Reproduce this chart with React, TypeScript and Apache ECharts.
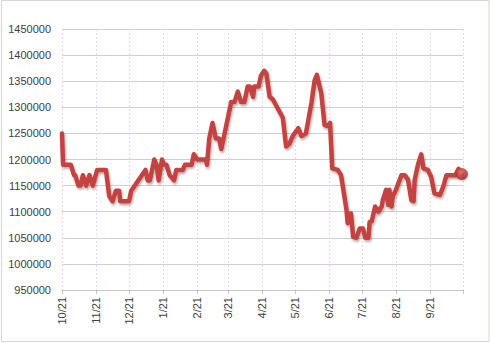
import React, { useEffect, useRef } from "react";
import * as echarts from "echarts";

const dates: string[] = [
  "2020-10-21","2020-10-22","2020-10-29","2020-11-01","2020-11-02","2020-11-05","2020-11-07","2020-11-09","2020-11-12","2020-11-15",
  "2020-11-18","2020-11-22","2020-11-30","2020-12-03","2020-12-06","2020-12-09","2020-12-12","2020-12-13","2020-12-21","2020-12-23",
  "2021-01-05","2021-01-07","2021-01-09","2021-01-13","2021-01-15","2021-01-17","2021-01-20","2021-01-22","2021-01-24","2021-01-27",
  "2021-01-31","2021-02-02","2021-02-08","2021-02-10","2021-02-16","2021-02-18","2021-02-21","2021-03-01","2021-03-02","2021-03-04",
  "2021-03-07","2021-03-10","2021-03-13","2021-03-15","2021-03-18","2021-03-21","2021-03-24","2021-03-27","2021-03-30","2021-04-02",
  "2021-04-05","2021-04-08","2021-04-10","2021-04-13","2021-04-14","2021-04-18","2021-04-20","2021-04-23","2021-04-25","2021-04-28",
  "2021-05-01","2021-05-10","2021-05-13","2021-05-16","2021-05-19","2021-05-24","2021-05-27","2021-05-31","2021-06-02","2021-06-05",
  "2021-06-08","2021-06-10","2021-06-14","2021-06-17","2021-06-20","2021-06-22","2021-06-24","2021-06-29","2021-07-02","2021-07-07",
  "2021-07-08","2021-07-11","2021-07-13","2021-07-16","2021-07-19","2021-07-22","2021-07-24","2021-07-27","2021-07-28","2021-07-30",
  "2021-08-02","2021-08-05","2021-08-08","2021-08-09","2021-08-12","2021-08-14","2021-08-15","2021-08-17","2021-08-18","2021-08-21",
  "2021-08-26","2021-08-29","2021-09-01","2021-09-04","2021-09-06","2021-09-07","2021-09-10","2021-09-13","2021-09-15","2021-09-19",
  "2021-09-22","2021-09-25","2021-09-30","2021-10-03","2021-10-06","2021-10-14","2021-10-17","2021-10-20",
];

const values: number[] = [
  1250000,1190000,1190000,1170000,1170000,1150000,1150000,1170000,1150000,1170000,
  1150000,1180000,1180000,1130000,1120000,1140000,1140000,1120000,1120000,1140000,
  1180000,1160000,1160000,1200000,1190000,1160000,1200000,1190000,1190000,1170000,
  1160000,1180000,1180000,1190000,1190000,1210000,1200000,1200000,1190000,1240000,
  1270000,1240000,1240000,1220000,1250000,1280000,1310000,1310000,1330000,1310000,
  1310000,1340000,1340000,1320000,1340000,1340000,1360000,1370000,1365000,1320000,
  1315000,1280000,1225000,1230000,1245000,1260000,1245000,1250000,1273000,1308000,
  1352000,1362000,1327000,1266000,1264000,1270000,1183000,1180000,1170000,1103000,
  1078000,1097000,1052000,1050000,1068000,1068000,1050000,1050000,1080000,1082000,
  1110000,1100000,1110000,1122000,1142000,1113000,1142000,1110000,1129000,1142000,
  1170000,1170000,1161000,1122000,1120000,1161000,1190000,1210000,1183000,1180000,
  1167000,1135000,1132000,1148000,1170000,1170000,1182000,1172000,
];

const tickDates: string[] = [
  "2020-10-21","2020-11-21","2020-12-21","2021-01-21","2021-02-21","2021-03-21",
  "2021-04-21","2021-05-21","2021-06-21","2021-07-21","2021-08-21","2021-09-21","2021-10-21",
];
const labelDates: string[] = tickDates.slice(0, 12);

const yMin = 950000;
const yMax = 1450000;
const yStep = 50000;

function toTs(s: string): number {
  const [y, m, d] = s.split("-").map(Number);
  return new Date(y, m - 1, d).getTime();
}

export default function App() {
  const ref = useRef<HTMLDivElement>(null);
  useEffect(() => {
    document.body.style.margin = "0";
    if (!ref.current) return;
    const chart = echarts.init(ref.current, null, { renderer: "svg" });
    const lineData = dates.map((d, i) => [toTs(d), values[i]]);
    const last = lineData[lineData.length - 1];
    chart.setOption({
      animation: false,
      backgroundColor: "#ffffff",
      grid: { left: 62, right: 27, top: 29, bottom: 53, containLabel: false },
      graphic: [
        {
          type: "rect",
          shape: { x: 1.5, y: 0.5, width: 487.5, height: 341 },
          style: { fill: "none", stroke: "#d4d8d4", lineWidth: 1 },
          silent: true,
        },
      ],
      xAxis: {
        type: "value",
        min: toTs(tickDates[0]),
        max: toTs(tickDates[tickDates.length - 1]),
        axisLine: { show: true, lineStyle: { color: "#c4c4c4", width: 1 } },
        axisTick: {
          show: true,
          length: 4,
          lineStyle: { color: "#c4c4c4" },
          customValues: tickDates.map(toTs),
        },
        axisLabel: {
          show: true,
          rotate: 90,
          margin: 7,
          color: "#404040",
          fontFamily: "Liberation Sans, Arial, sans-serif",
          fontSize: 11,
          customValues: labelDates.map(toTs),
          formatter: (v: number) => {
            const d = new Date(v);
            return `${d.getMonth() + 1}/${d.getDate()}`;
          },
        },
        splitLine: {
          show: true,
          lineStyle: { color: "#ead6ea", type: [2, 2], width: 1 },
        },
      },
      yAxis: {
        type: "value",
        min: yMin,
        max: yMax,
        interval: yStep,
        axisLine: { show: false },
        axisTick: { show: false },
        axisLabel: {
          color: "#404040",
          fontFamily: "Liberation Sans, Arial, sans-serif",
          fontSize: 11,
          margin: 11,
          formatter: (v: number) => String(v),
        },
        splitLine: { show: true, lineStyle: { color: "#cfcfcf", width: 1 } },
      },
      series: [
        {
          type: "line",
          data: lineData,
          showSymbol: false,
          symbol: "none",
          lineStyle: {
            color: "#c4423f",
            width: 4.5,
            join: "round",
            cap: "round",
            shadowColor: "rgba(0,0,0,0.3)",
            shadowBlur: 2,
            shadowOffsetX: 1,
            shadowOffsetY: 2,
          },
          z: 3,
        },
        {
          type: "scatter",
          data: [last],
          symbol: "circle",
          symbolSize: 12,
          itemStyle: {
            color: {
              type: "radial",
              x: 0.4,
              y: 0.35,
              r: 0.65,
              colorStops: [
                { offset: 0, color: "#f08a86" },
                { offset: 0.5, color: "#c8403c" },
                { offset: 1, color: "#8e2422" },
              ],
            },
            shadowColor: "rgba(0,0,0,0.3)",
            shadowBlur: 2,
            shadowOffsetY: 1,
          },
          z: 4,
        },
      ],
    });
    return () => chart.dispose();
  }, []);
  return <div ref={ref} style={{ width: 490, height: 343 }} />;
}
